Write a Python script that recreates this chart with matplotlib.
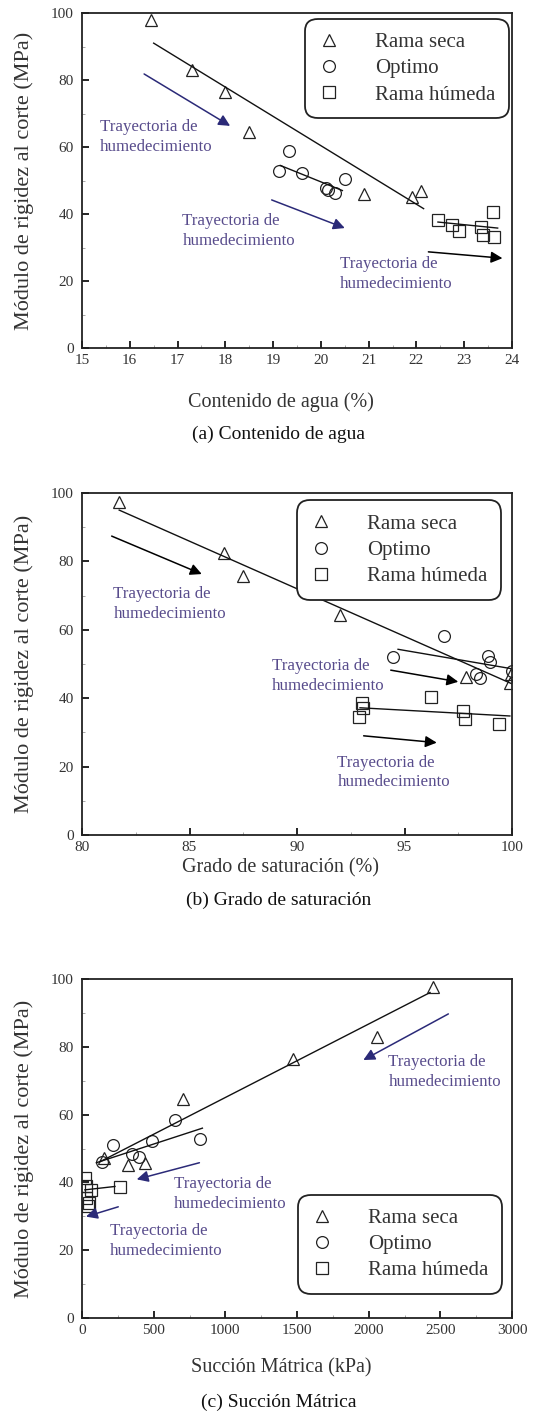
import matplotlib
matplotlib.use('Agg')
import matplotlib.pyplot as plt

plt.rcParams['font.family'] = ['Liberation Serif', 'DejaVu Serif']

# (a) contenido de agua (%) vs G (MPa)
w_seca = [16.45, 17.3, 18.0, 18.5, 20.9, 21.9, 22.1]
G_seca_a = [98, 83, 76.4, 64.5, 46, 45, 47]
w_optimo = [19.13, 19.33, 19.6, 20.1, 20.15, 20.3, 20.5]
G_optimo_a = [52.8, 58.8, 52.2, 47.7, 47.3, 46.3, 50.4]
w_humeda = [22.45, 22.75, 22.9, 23.35, 23.4, 23.6, 23.63]
G_humeda_a = [38.2, 36.7, 35, 36.2, 33.8, 40.6, 33.1]
fit_a = [([16.5, 22.15], [91, 41.6]),
         ([19.15, 20.45], [54.5, 47]),
         ([22.45, 23.7], [37.6, 35.8])]

# (b) grado de saturacion (%)
S_seca = [81.73, 86.6, 87.5, 92.0, 97.86, 99.9, 99.95]
G_seca_b = [97.5, 82.5, 75.7, 64.3, 46.1, 44.4, 47]
S_optimo = [94.48, 96.85, 98.33, 98.5, 98.9, 98.98, 99.98]
G_optimo_b = [52.1, 58.3, 47.1, 45.8, 52.3, 50.7, 48]
S_humeda = [93.0, 93.08, 92.9, 96.23, 97.7, 97.8, 99.4]
G_humeda_b = [38.5, 37, 34.4, 40.4, 36.3, 33.8, 32.5]
fit_b = [([81.73, 100], [95, 44.2]),
         ([94.7, 100], [54.3, 48.6]),
         ([92.93, 99.9], [37.2, 34.8])]

# (c) succion matrica (kPa)
psi_seca = [2447, 2056, 1475, 703, 323, 440, 150]
G_seca_c = [97.7, 83, 76.4, 64.6, 45.1, 45.6, 47.1]
psi_optimo = [137, 219, 350, 395, 486, 650, 820]
G_optimo_c = [46.1, 51, 48.5, 47.5, 52.2, 58.5, 52.7]
psi_humeda = [20, 30, 60, 265, 25, 50, 40]
G_humeda_c = [41.3, 39, 37.8, 38.5, 35.5, 34, 33]
fit_c = [([126, 2428], [46.1, 96]),
         ([100, 840], [45.8, 56]),
         ([20, 230], [37.8, 38.8])]

txt = 'Trayectoria de\nhumedecimiento'
navy = '#2b2a78'
purple = '#584c8c'

# arrows: (start, end, colour), text: (x, y)
arrows_a = [((16.3, 81.8), (18.1, 66.3), navy),
            ((18.97, 44.2), (20.5, 35.8), navy),
            ((22.25, 28.7), (23.8, 26.8), 'black')]
texts_a = [(15.38, 63), (17.1, 35), (20.4, 22)]

arrows_b = [((81.38, 87.4), (85.57, 76.3), 'black'),
            ((94.36, 48.2), (97.5, 44.8), 'black'),
            ((93.1, 29.0), (96.5, 27.0), 'black')]
texts_b = [(81.46, 67.5), (88.82, 46.5), (91.88, 18.3)]

arrows_c = [((2556, 89.7), (1963, 76.1), navy),
            ((819, 45.8), (382, 40.9), navy),
            ((253, 32.8), (28, 29.9), navy)]
texts_c = [(2138, 72.6), (642, 36.6), (195, 22.7)]


def frange(a, b, step):
    out = []
    v = a
    while v <= b + 1e-9:
        out.append(v)
        v += step
    return out


def panel(ax, data, fits, arrows, texts, xlim, xmaj, xmin, legend_loc, legend_anchor):
    mk = ['^', 'o', 's']
    names = ['Rama seca', 'Optimo', 'Rama húmeda']
    for (x, y), m, n in zip(data, mk, names):
        ax.plot(x, y, m, ms=8.5 if m != 's' else 8, mfc='none', mec='#222222', mew=0.9,
                ls='none', label=n)
    for fx, fy in fits:
        ax.plot(fx, fy, color='#111111', lw=1.0)
    for (p0, p1, c) in arrows:
        ax.annotate('', xy=p1, xytext=p0,
                    arrowprops=dict(arrowstyle='-|>', color=c, lw=1.1, mutation_scale=17,
                                    shrinkA=0, shrinkB=0))
    for (tx, ty) in texts:
        ax.text(tx, ty, txt, color=purple, fontsize=12.2, va='center', ha='left',
                linespacing=1.3)
    ax.set_xlim(*xlim)
    ax.set_ylim(0, 100)
    ax.set_xticks(frange(xlim[0], xlim[1], xmaj))
    ax.set_xticklabels([str(int(v)) for v in frange(xlim[0], xlim[1], xmaj)])
    ax.set_xticks(frange(xlim[0], xlim[1], xmin), minor=True)
    ax.set_yticks(range(0, 101, 20))
    ax.set_yticks(range(0, 101, 10), minor=True)
    ax.tick_params(which='major', direction='in', length=5, width=1.2, labelsize=11,
                   labelcolor='#333333', top=False, right=False)
    ax.tick_params(which='minor', direction='in', length=2.5, width=0.6, color='#999999',
                   top=False, right=False)
    ax.tick_params(axis='y', pad=6)
    ax.tick_params(axis='x', pad=4)
    for s in ax.spines.values():
        s.set_linewidth(1.3)
        s.set_color('#222222')
    leg = ax.legend(loc=legend_loc, bbox_to_anchor=legend_anchor, fontsize=15,
                    frameon=True, fancybox=True, edgecolor='#222222', framealpha=1,
                    handlelength=1, handletextpad=1.7, borderpad=0.55,
                    labelspacing=0.32, borderaxespad=0)
    leg.get_frame().set_linewidth(1.3)
    leg.get_frame().set_boxstyle('round,pad=0.1,rounding_size=0.6')
    for t in leg.get_texts():
        t.set_color('#333333')


fig = plt.figure(figsize=(5.45, 14.16), dpi=100)
W, H = 545.0, 1416.0

ax1 = fig.add_axes([82 / W, 1 - 348 / H, 430 / W, 335 / H])
ax2 = fig.add_axes([82 / W, 1 - 835 / H, 430 / W, 342 / H])
ax3 = fig.add_axes([82 / W, 1 - 1318 / H, 430 / W, 339 / H])

panel(ax1, [(w_seca, G_seca_a), (w_optimo, G_optimo_a), (w_humeda, G_humeda_a)],
      fit_a, arrows_a, texts_a, (15, 24), 1, 0.5, 'upper right', (0.988, 0.976))
panel(ax2, [(S_seca, G_seca_b), (S_optimo, G_optimo_b), (S_humeda, G_humeda_b)],
      fit_b, arrows_b, texts_b, (80, 100), 5, 2.5, 'upper right', (0.970, 0.972))
panel(ax3, [(psi_seca, G_seca_c), (psi_optimo, G_optimo_c), (psi_humeda, G_humeda_c)],
      fit_c, arrows_c, texts_c, (0, 3000), 500, 250, 'lower right', (0.972, 0.077))

# labels
ylab = 'Módulo de rigidez al corte (MPa)'
for top, bot in [(13, 348), (493, 835), (979, 1318)]:
    fig.text(24 / W, 1 - (top + bot) / 2 / H, ylab, rotation=90, fontsize=16,
             ha='center', va='center', color='#333333')

xlabs = [('Contenido de agua (%)', '(a) Contenido de agua', 402, 434),
         ('Grado de saturación (%)', '(b) Grado de saturación', 868, 900),
         ('Succión Mátrica (kPa)', '(c) Succión Mátrica', 1368, 1402)]
for xl, cap, y1, y2 in xlabs:
    fig.text(281 / W, 1 - y1 / H, xl, fontsize=14.5, ha='center', va='center', color='#333333')
    fig.text(279 / W, 1 - y2 / H, cap, fontsize=14, ha='center', va='center', color='#111111')

fig.savefig('out.png', dpi=100, facecolor='white')
